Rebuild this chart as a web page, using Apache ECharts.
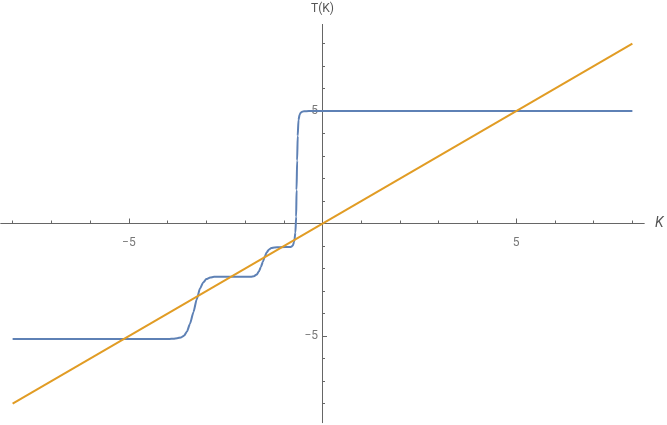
<!DOCTYPE html>
<html>
<head>
<meta charset="utf-8">
<script src="https://cdn.jsdelivr.net/npm/echarts@6/dist/echarts.min.js"></script>
<style>html,body{margin:0;padding:0;background:#fff}#c{width:667px;height:425px}</style>
</head>
<body>
<div id="c"></div>
<script>
// Blue curve T(K)
var curveK = [-8, -3.95, -3.85, -3.75, -3.65, -3.57, -3.5, -3.42, -3.33, -3.25, -3.16, -3.08, -3.0, -2.9, -2.8, -2.65, -1.85, -1.77, -1.7, -1.64, -1.59, -1.54, -1.49, -1.44, -1.38, -1.32, -1.24, -1.1, -0.82, -0.77, -0.73, -0.7, -0.68, -0.67, -0.655, -0.64, -0.62, -0.59, -0.55, -0.48, -0.35, 8];
var curveT = [-5.13, -5.13, -5.12, -5.1, -5.06, -4.98, -4.8, -4.45, -3.93, -3.38, -2.88, -2.62, -2.47, -2.4, -2.37, -2.36, -2.36, -2.34, -2.27, -2.12, -1.93, -1.7, -1.47, -1.28, -1.15, -1.09, -1.06, -1.05, -1.04, -0.99, -0.8, -0.4, 0.3, 1.49, 2.8, 3.9, 4.6, 4.85, 4.95, 4.99, 5, 5];
// Orange line
var lineK = [-8, 8];
var lineT = [-8, 8];
// Ticks
var minorTicks = [-8, -7, -6, -5, -4, -3, -2, -1, 1, 2, 3, 4, 5, 6, 7, 8];
var majorTicks = [-5, 5];
var majorLabels = ['\u22125', '5'];

var axisColor = '#666';
var labelColor = '#555';
var fontFamily = 'Roboto, "Noto Sans", sans-serif';

function xAx(main) {
  return {
    type: 'value', min: -8.3, max: 8.3, position: 'bottom',
    name: main ? 'K' : '', nameLocation: 'end', nameGap: 11,
    nameTextStyle: { fontStyle: 'italic', color: labelColor, fontSize: 14, fontFamily: fontFamily, verticalAlign: 'middle' },
    axisLine: { show: true, onZero: true, lineStyle: { color: axisColor, width: 1 } },
    axisTick: { show: true, inside: true, length: main ? 3 : 5, customValues: main ? minorTicks : majorTicks, lineStyle: { color: axisColor } },
    axisLabel: { show: false },
    splitLine: { show: false }
  };
}
function yAx(main) {
  return {
    type: 'value', min: -8.85, max: 8.85, position: 'left',
    name: main ? 'T(K)' : '', nameLocation: 'end', nameGap: 9,
    nameTextStyle: { color: labelColor, fontSize: 12, fontFamily: fontFamily, align: 'center' },
    axisLine: { show: true, onZero: true, lineStyle: { color: axisColor, width: 1 } },
    axisTick: { show: true, inside: true, length: main ? 2.5 : 4.5, customValues: main ? minorTicks : majorTicks, lineStyle: { color: axisColor } },
    axisLabel: { show: false },
    splitLine: { show: false }
  };
}

var labelStyle = { color: labelColor, fontSize: 12, fontFamily: fontFamily };
var xLabelData = majorTicks.map(function (v, i) { return { value: [v, 0], name: majorLabels[i] }; });
var yLabelData = majorTicks.map(function (v, i) { return { value: [0, v], name: majorLabels[i] }; });

var chart = echarts.init(document.getElementById('c'), null, { renderer: 'canvas' });
chart.setOption({
  animation: false,
  backgroundColor: '#fff',
  grid: { left: 1, width: 643, top: 24.4, height: 398.25, containLabel: false, outerBoundsMode: 'none' },
  xAxis: [xAx(true), xAx(false)],
  yAxis: [yAx(true), yAx(false)],
  series: [
    { type: 'line', data: curveK.map(function (k, i) { return [k, curveT[i]]; }), showSymbol: false, smooth: 0.2, smoothMonotone: 'x',
      lineStyle: { color: '#5E81B5', width: 2 }, itemStyle: { color: '#5E81B5' }, z: 3 },
    { type: 'line', data: lineK.map(function (k, i) { return [k, lineT[i]]; }), showSymbol: false,
      lineStyle: { color: '#E19C24', width: 2 }, itemStyle: { color: '#E19C24' }, z: 4 },
    { type: 'scatter', data: xLabelData, symbolSize: 1, itemStyle: { color: 'rgba(0,0,0,0)' }, silent: true,
      label: Object.assign({ show: true, position: 'bottom', distance: 13, formatter: '{b}' }, labelStyle) },
    { type: 'scatter', data: yLabelData, symbolSize: 1, itemStyle: { color: 'rgba(0,0,0,0)' }, silent: true,
      label: Object.assign({ show: true, position: 'left', distance: 4, formatter: '{b}' }, labelStyle) }
  ]
});
</script>
</body>
</html>
